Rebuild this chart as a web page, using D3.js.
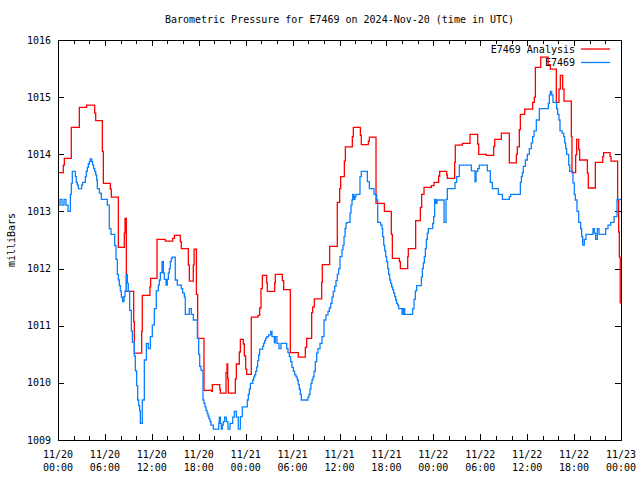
<!DOCTYPE html>
<html>
<head>
<meta charset="utf-8">
<script src="https://cdn.jsdelivr.net/npm/d3@7"></script>
<style>
  html, body { margin: 0; padding: 0; background: #fff; }
  svg { display: block; }
  text { font-family: "DejaVu Sans Mono", "Liberation Mono", monospace; font-size: 10px; fill: #000; }
</style>
</head>
<body>
<svg id="chart" width="640" height="480"></svg>
<script>
// ---- data (hours since 2024-11-20 00:00 UTC, pressure in millibars) ----
const redT = [
  0, 0.68, 0.81, 1.7, 2.73, 3.67, 4.69, 4.82, 5.67, 5.8,
  6.69, 6.82, 7.72, 8.48, 8.57, 8.74, 9.68, 9.76, 10.7, 10.78,
  11.76, 11.85, 12.66, 13.72, 14.66, 14.88, 15.64, 15.77, 16.67, 16.8,
  17.3, 17.4, 17.7, 17.86, 18.67, 19.65, 19.74, 20.68, 20.76, 21.49,
  21.61, 21.70, 21.78, 22.68, 22.81, 23.19, 23.32, 23.7, 23.83, 24.0,
  24.13, 24.72, 25.58, 25.79, 25.96, 26.13, 26.69, 26.77, 27.71, 27.79,
  28.69, 28.86, 29.71, 30.73, 31.63, 31.8, 32.44, 32.57, 32.78, 33.72,
  33.8, 34.74, 35.72, 36.02, 36.15, 36.62, 36.75, 37.64, 37.77, 38.67,
  38.79, 39.69, 39.82, 40.67, 41.74, 42.63, 42.76, 43.65, 43.78, 44.72,
  44.8, 45.74, 46.34, 46.51, 46.81, 47.75, 48.09, 48.68, 48.81, 49.71,
  49.79, 50.73, 50.81, 51.71, 52.69, 53.67, 53.8, 54.78, 55.72, 55.85,
  56.7, 57.72, 58.62, 58.74, 59.0, 59.13, 59.68, 60.7, 60.92, 61.05,
  61.73, 62.67, 62.96, 63.73, 64.07, 64.24, 64.54, 64.71, 65.65, 65.73,
  66.2, 66.33, 66.59, 66.71, 67.7, 67.82, 68.72, 69.66, 69.78, 70.6,
  70.72, 71.57, 71.7, 71.79, 71.9, 72
];
const redV = [
  1013.68, 1013.81, 1013.93, 1014.47, 1014.82, 1014.86, 1014.72, 1014.59, 1014.05, 1013.49,
  1013.39, 1013.25, 1012.37, 1012.62, 1012.88, 1011.60, 1011.07, 1010.52, 1010.90, 1011.53,
  1011.68, 1011.83, 1012.51, 1012.48, 1012.53, 1012.58, 1012.47, 1012.35, 1012.06, 1011.78,
  1012.06, 1012.34, 1011.55, 1010.78, 1009.87, 1009.85, 1009.97, 1009.89, 1009.82, 1010.18,
  1010.33, 1010.07, 1009.82, 1010.07, 1010.33, 1010.54, 1010.76, 1010.68, 1010.47, 1010.24,
  1010.15, 1011.15, 1011.18, 1011.31, 1011.65, 1011.88, 1011.75, 1011.60, 1011.75, 1011.90,
  1011.79, 1011.63, 1010.53, 1010.45, 1010.62, 1010.78, 1011.23, 1011.33, 1011.47, 1011.76,
  1012.07, 1012.39, 1013.16, 1013.40, 1013.61, 1013.88, 1014.13, 1014.31, 1014.47, 1014.33,
  1014.17, 1014.23, 1014.30, 1013.14, 1013.00, 1012.60, 1012.18, 1012.12, 1012.00, 1012.21,
  1012.35, 1012.84, 1013.07, 1013.30, 1013.42, 1013.45, 1013.51, 1013.62, 1013.70, 1013.64,
  1013.58, 1013.86, 1014.16, 1014.19, 1014.35, 1014.18, 1014.00, 1013.98, 1014.14, 1014.26,
  1014.37, 1013.85, 1014.00, 1014.13, 1014.43, 1014.70, 1014.79, 1014.91, 1015.00, 1015.52,
  1015.70, 1015.57, 1015.49, 1014.91, 1015.14, 1015.38, 1015.14, 1014.93, 1014.31, 1013.68,
  1013.99, 1014.26, 1014.08, 1013.90, 1013.67, 1013.41, 1013.86, 1013.96, 1014.03, 1013.96,
  1013.88, 1013.20, 1012.64, 1012.20, 1011.40, 1011.40
];
const blueT = [
  0, 0.26, 0.51, 0.77, 1.02, 1.28, 1.58, 1.71, 1.83, 2.22,
  2.34, 2.47, 2.6, 3.03, 3.15, 3.5, 3.62, 3.75, 3.88, 4.01,
  4.13, 4.31, 4.43, 4.56, 4.69, 4.82, 4.94, 5.03, 5.29, 5.54,
  6.31, 6.56, 6.78, 7.25, 7.42, 7.59, 7.72, 7.84, 7.97, 8.10,
  8.27, 8.44, 8.57, 8.74, 8.87, 8.99, 9.16, 9.38, 9.51, 9.76,
  9.89, 10.06, 10.19, 10.32, 10.44, 10.53, 10.78, 11.04, 11.30, 11.55,
  11.81, 12.06, 12.32, 12.57, 12.83, 12.96, 13.09, 13.3, 13.47, 13.6,
  13.81, 13.98, 14.11, 14.24, 14.36, 14.49, 14.62, 15.0, 15.26, 15.77,
  15.94, 16.16, 16.28, 16.79, 17.05, 17.31, 17.82, 17.99, 18.12, 18.29,
  18.54, 18.67, 18.80, 18.93, 19.06, 19.18, 19.31, 19.44, 19.57, 19.87,
  20.55, 20.63, 20.76, 20.89, 21.02, 21.14, 21.31, 21.53, 21.74, 22.0,
  22.34, 22.55, 22.81, 23.06, 23.32, 23.57, 24.21, 24.34, 24.47, 24.60,
  24.9, 25.02, 25.15, 25.28, 25.41, 25.53, 25.66, 25.79, 26.17, 26.30,
  26.43, 26.56, 26.69, 26.94, 27.2, 27.37, 27.67, 27.79, 28.01, 28.26,
  28.52, 29.24, 29.41, 29.58, 29.75, 29.92, 30.1, 30.27, 30.44, 30.61,
  30.73, 30.86, 30.99, 31.12, 31.97, 32.1, 32.23, 32.35, 32.48, 32.61,
  32.74, 32.91, 33.08, 33.25, 33.51, 33.76, 34.02, 34.27, 34.53, 34.70,
  34.87, 35.04, 35.21, 35.38, 35.55, 35.72, 35.89, 36.06, 36.32, 36.45,
  36.58, 36.71, 36.83, 36.96, 37.35, 37.47, 37.6, 37.69, 37.86, 37.98,
  38.11, 38.62, 38.79, 39.56, 39.82, 40.41, 40.75, 40.88, 41.27, 41.44,
  41.52, 41.65, 41.78, 41.91, 42.03, 42.16, 42.29, 42.42, 42.54, 42.67,
  42.8, 42.93, 43.06, 43.18, 43.31, 43.44, 43.57, 44.0, 44.17, 44.34,
  45.36, 45.53, 45.7, 45.87, 46.47, 46.6, 46.72, 46.85, 46.98, 47.11,
  47.23, 47.36, 47.92, 48.04, 48.17, 48.34, 48.47, 49.37, 49.62, 49.79,
  50.77, 50.98, 51.33, 52.86, 53.33, 53.46, 53.67, 53.88, 54.91, 55.29,
  55.55, 56.31, 56.83, 57.72, 57.89, 59.13, 59.26, 59.38, 59.51, 59.77,
  60.02, 60.28, 60.53, 60.70, 60.88, 61.17, 61.56, 62.71, 62.84, 62.96,
  63.13, 63.30, 63.77, 63.90, 64.07, 64.2, 64.46, 64.67, 64.80, 64.93,
  65.05, 65.31, 65.44, 65.86, 66.03, 66.16, 66.37, 66.59, 66.84, 66.97,
  67.10, 67.31, 67.52, 68.42, 68.59, 68.76, 68.97, 69.19, 70.04, 70.34,
  70.68, 71.11, 71.49, 72
];
const blueV = [
  1013.11, 1013.21, 1013.11, 1013.21, 1013.11, 1013.00, 1013.30, 1013.49, 1013.70, 1013.61,
  1013.51, 1013.46, 1013.40, 1013.46, 1013.51, 1013.61, 1013.70, 1013.77, 1013.83, 1013.87,
  1013.92, 1013.87, 1013.81, 1013.75, 1013.70, 1013.64, 1013.55, 1013.40, 1013.32, 1013.21,
  1013.11, 1012.70, 1012.60, 1012.40, 1012.16, 1011.90, 1011.80, 1011.70, 1011.61, 1011.50,
  1011.42, 1011.51, 1011.61, 1011.90, 1011.74, 1011.60, 1011.27, 1010.91, 1010.71, 1010.47,
  1010.21, 1009.95, 1009.70, 1009.60, 1009.51, 1009.29, 1009.70, 1010.40, 1010.69, 1010.60,
  1010.81, 1011.01, 1011.30, 1011.61, 1011.71, 1011.80, 1011.93, 1012.12, 1011.92, 1011.81,
  1011.71, 1011.81, 1011.92, 1012.00, 1012.12, 1012.18, 1012.20, 1011.80, 1011.71, 1011.65,
  1011.57, 1011.50, 1011.20, 1011.30, 1011.20, 1011.10, 1010.78, 1010.50, 1010.29, 1010.22,
  1009.70, 1009.64, 1009.58, 1009.52, 1009.47, 1009.42, 1009.37, 1009.32, 1009.26, 1009.19,
  1009.29, 1009.40, 1009.29, 1009.19, 1009.26, 1009.32, 1009.40, 1009.32, 1009.19, 1009.29,
  1009.40, 1009.50, 1009.40, 1009.19, 1009.41, 1009.58, 1009.70, 1009.80, 1009.89, 1009.99,
  1010.05, 1010.10, 1010.14, 1010.20, 1010.28, 1010.39, 1010.49, 1010.59, 1010.64, 1010.69,
  1010.74, 1010.78, 1010.81, 1010.84, 1010.90, 1010.81, 1010.70, 1010.81, 1010.69, 1010.60,
  1010.69, 1010.60, 1010.53, 1010.46, 1010.37, 1010.27, 1010.20, 1010.14, 1010.10, 1010.05,
  1009.97, 1009.89, 1009.80, 1009.70, 1009.75, 1009.80, 1009.89, 1009.99, 1010.05, 1010.10,
  1010.20, 1010.37, 1010.52, 1010.60, 1010.69, 1010.81, 1011.10, 1011.19, 1011.25, 1011.31,
  1011.39, 1011.50, 1011.60, 1011.69, 1011.79, 1011.90, 1012.00, 1012.21, 1012.33, 1012.41,
  1012.56, 1012.70, 1012.79, 1012.81, 1012.97, 1013.11, 1013.20, 1013.30, 1013.21, 1013.26,
  1013.30, 1013.61, 1013.70, 1013.52, 1013.40, 1013.30, 1013.20, 1012.81, 1012.76, 1012.70,
  1012.56, 1012.41, 1012.31, 1012.21, 1012.12, 1012.00, 1011.90, 1011.80, 1011.74, 1011.68,
  1011.63, 1011.57, 1011.51, 1011.45, 1011.39, 1011.36, 1011.30, 1011.20, 1011.30, 1011.20,
  1011.30, 1011.46, 1011.61, 1011.70, 1011.85, 1012.00, 1012.10, 1012.21, 1012.35, 1012.51,
  1012.62, 1012.70, 1012.79, 1012.91, 1013.21, 1013.14, 1013.20, 1012.81, 1013.21, 1013.40,
  1013.51, 1013.61, 1013.81, 1013.71, 1013.52, 1013.70, 1013.75, 1013.81, 1013.71, 1013.51,
  1013.40, 1013.30, 1013.21, 1013.26, 1013.30, 1013.51, 1013.61, 1013.68, 1013.79, 1013.90,
  1014.00, 1014.10, 1014.20, 1014.31, 1014.41, 1014.60, 1014.80, 1014.89, 1015.04, 1015.10,
  1015.04, 1014.91, 1014.80, 1014.70, 1014.60, 1014.41, 1014.37, 1014.31, 1014.20, 1014.10,
  1014.00, 1013.81, 1013.70, 1013.50, 1013.30, 1013.20, 1013.00, 1012.81, 1012.70, 1012.56,
  1012.41, 1012.51, 1012.60, 1012.70, 1012.62, 1012.51, 1012.70, 1012.60, 1012.70, 1012.76,
  1012.81, 1012.91, 1013.21, 1013.21
];
const yTicks = [1009, 1010, 1011, 1012, 1013, 1014, 1015, 1016];
const xTickHours = [0, 6, 12, 18, 24, 30, 36, 42, 48, 54, 60, 66, 72];
const xTickDays = ["11/20", "11/20", "11/20", "11/20", "11/21", "11/21", "11/21", "11/21", "11/22", "11/22", "11/22", "11/22", "11/23"];
const xTickTimes = ["00:00", "06:00", "12:00", "18:00", "00:00", "06:00", "12:00", "18:00", "00:00", "06:00", "12:00", "18:00", "00:00"];
const seriesNames = ["E7469 Analysis", "E7469"];
const seriesColors = ["#ff0000", "#0a80ff"];
const titleText = "Barometric Pressure for E7469 on 2024-Nov-20 (time in UTC)";
const yLabel = "milliBars";

// ---- layout ----
const L = 58, R = 621, T = 40, B = 440;
const svg = d3.select("#chart");
svg.append("rect").attr("width", 640).attr("height", 480).attr("fill", "#fff");

const x = d3.scaleLinear().domain([0, 72]).range([L, R]);
const y = d3.scaleLinear().domain([1009, 1016]).range([B, T]);

// axes with inward ticks
const minorHours = d3.range(0, 73, 2).filter(h => h % 6 !== 0);
function axisStyle(g) {
  g.select(".domain").remove();
  g.selectAll("line").attr("stroke", "#000").attr("stroke-width", 1).attr("shape-rendering", "crispEdges");
  g.selectAll("text").remove();
}
svg.append("g").attr("transform", `translate(0,${B})`)
  .call(d3.axisBottom(x).tickValues(xTickHours).tickSize(-6)).call(axisStyle);
svg.append("g").attr("transform", `translate(0,${B})`)
  .call(d3.axisBottom(x).tickValues(minorHours).tickSize(-4)).call(axisStyle);
svg.append("g").attr("transform", `translate(0,${T})`)
  .call(d3.axisTop(x).tickValues(xTickHours).tickSize(-6)).call(axisStyle);
svg.append("g").attr("transform", `translate(0,${T})`)
  .call(d3.axisTop(x).tickValues(minorHours).tickSize(-4)).call(axisStyle);
svg.append("g").attr("transform", `translate(${L},0)`)
  .call(d3.axisLeft(y).tickValues(yTicks).tickSize(-6)).call(axisStyle);
svg.append("g").attr("transform", `translate(${R},0)`)
  .call(d3.axisRight(y).tickValues(yTicks).tickSize(-6)).call(axisStyle);

// y labels
svg.append("g").selectAll("text").data(yTicks).join("text")
  .attr("x", L - 7).attr("y", d => y(d) + 3.5)
  .attr("text-anchor", "end").text(d => d);

// x labels (two lines)
const xl = svg.append("g").selectAll("text").data(xTickHours).join("text")
  .attr("text-anchor", "middle");
xl.append("tspan").attr("x", d => x(d)).attr("y", B + 18).text((d, i) => xTickDays[i]);
xl.append("tspan").attr("x", d => x(d)).attr("y", B + 31).text((d, i) => xTickTimes[i]);

// title & axis label
svg.append("text").attr("x", (L + R) / 2).attr("y", 23).attr("text-anchor", "middle").text(titleText);
svg.append("text").attr("transform", `translate(15,${(T + B) / 2}) rotate(-90)`)
  .attr("text-anchor", "middle").text(yLabel);

// legend
const legend = svg.append("g");
seriesNames.forEach((name, i) => {
  const ly = 49 + i * 13.5;
  legend.append("text").attr("x", 575).attr("y", ly + 3.5).attr("text-anchor", "end").text(name);
  legend.append("line").attr("x1", 581).attr("x2", 610).attr("y1", ly).attr("y2", ly)
    .attr("stroke", seriesColors[i]).attr("stroke-width", 1.3);
});

// lines
const line = d3.line().x(d => x(d[0])).y(d => y(d[1])).curve(d3.curveStepAfter);
const redData = redT.map((t, i) => [t, redV[i]]);
const blueData = blueT.map((t, i) => [t, blueV[i]]);
svg.append("path").datum(redData).attr("d", line)
  .attr("fill", "none").attr("stroke", seriesColors[0]).attr("stroke-width", 1.3);
svg.append("path").datum(blueData).attr("d", line)
  .attr("fill", "none").attr("stroke", seriesColors[1]).attr("stroke-width", 1.3);

// frame
svg.append("rect").attr("x", L).attr("y", T).attr("width", R - L).attr("height", B - T)
  .attr("fill", "none").attr("stroke", "#000").attr("stroke-width", 1).attr("shape-rendering", "crispEdges");
</script>
</body>
</html>
